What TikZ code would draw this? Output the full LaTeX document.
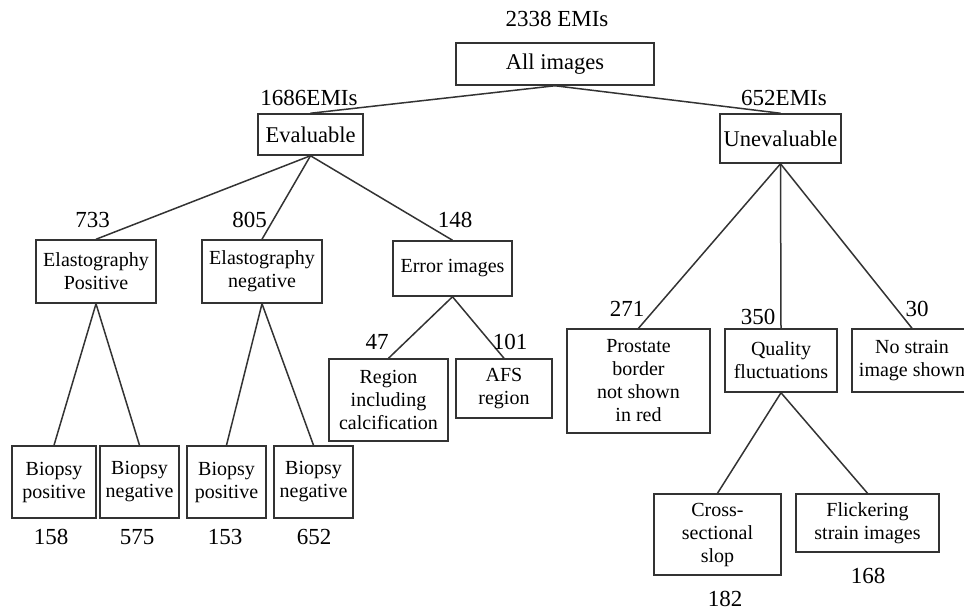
\documentclass[tikz,border=0pt]{standalone}
\usepackage{fontspec}
\setmainfont{Liberation Serif}
\begin{document}
\begin{tikzpicture}[x=1pt,y=-1pt,
  box/.style={draw=black!80, line width=1.5pt, inner sep=0pt, align=center,
    font=\fontsize{20}{23}\selectfont},
  topbox/.style={box, font=\fontsize{22.5}{26}\selectfont},
  num/.style={inner sep=0pt, text depth=0pt, font=\fontsize{23}{26}\selectfont},
  link/.style={line width=1.5pt, draw=black!80}]
\useasboundingbox (0,0) rectangle (964,611);
% boxes
\node[topbox, minimum width=198pt, minimum height=42pt] (all) at (555,64) {All images};
\node[topbox, minimum width=105pt, minimum height=41pt] (eval) at (310.5,134.5) {Evaluable};
\node[topbox, minimum width=121pt, minimum height=49pt] (uneval) at (780.5,138.5) {Unevaluable};
\node[box, minimum width=120pt, minimum height=63pt] (elpos) at (96,271.5) {Elastography\\Positive};
\node[box, minimum width=120pt, minimum height=63pt] (elneg) at (262,271.5) {Elastography\\negative};
\node[box, minimum width=119pt, minimum height=55pt] (err) at (452.5,268.5) {Error images};
\node[box, minimum width=119pt, minimum height=82pt] (reg) at (388.5,400) {Region\\including\\calcification};
\node[box, minimum width=96pt, minimum height=59pt] (afs) at (504,388.5) {AFS\\region};
\node[box, minimum width=84pt, minimum height=72pt] (b1) at (54,482) {Biopsy\\positive};
\node[box, minimum width=79pt, minimum height=72pt] (b2) at (139.5,482) {Biopsy\\negative};
\node[box, minimum width=79pt, minimum height=72pt] (b3) at (226.5,482) {Biopsy\\positive};
\node[box, minimum width=79pt, minimum height=72pt] (b4) at (313.5,482) {Biopsy\\negative};
\node[box, minimum width=143pt, minimum height=104pt] (pros) at (638.5,381) {Prostate\\border\\not shown\\in red};
\node[box, minimum width=112pt, minimum height=63pt] (qual) at (781,360.5) {Quality\\fluctuations};
\node[box, minimum width=120pt, minimum height=63pt] (nostr) at (912,360.5) {No strain\\image shown};
\node[box, minimum width=127pt, minimum height=81pt] (cross) at (717.5,534.5) {Cross-\\sectional\\slop};
\node[box, minimum width=143pt, minimum height=58pt] (flick) at (867.5,523) {Flickering\\strain images};
% connectors
\draw[link] (all.south) -- (eval.north);
\draw[link] (all.south) -- (uneval.north);
\draw[link] (eval.south) -- (elpos.north);
\draw[link] (eval.south) -- (elneg.north);
\draw[link] (eval.south) -- (err.north);
\draw[link] (err.south) -- (reg.north);
\draw[link] (err.south) -- (afs.north);
\draw[link] (elpos.south) -- (b1.north);
\draw[link] (elpos.south) -- (b2.north);
\draw[link] (elneg.south) -- (b3.north);
\draw[link] (elneg.south) -- (b4.north);
\draw[link] (uneval.south) -- (pros.north);
\draw[link] (uneval.south) -- (qual.north);
\draw[link] (uneval.south) -- (nostr.north);
\draw[link] (qual.south) -- (cross.north);
\draw[link] (qual.south) -- (flick.north);
% numbers
\node[num] (nall) at (557,19) {2338 EMIs};
\node[num] (neval) at (309,98) {1686EMIs};
\node[num] (nuneval) at (784,98) {652EMIs};
\node[num] (nelpos) at (92.5,220) {733};
\node[num] (nelneg) at (249.5,220) {805};
\node[num] (nerr) at (455,220) {148};
\node[num] (nreg) at (377,342) {47};
\node[num] (nafs) at (510,342) {101};
\node[num] (nb1) at (51,537) {158};
\node[num] (nb2) at (137,537) {575};
\node[num] (nb3) at (225,537) {153};
\node[num] (nb4) at (314,537) {652};
\node[num] (npros) at (627,309) {271};
\node[num] (nqual) at (758,317) {350};
\node[num] (nnostr) at (917,309) {30};
\node[num] (ncross) at (725,599) {182};
\node[num] (nflick) at (868,576) {168};
\end{tikzpicture}
\end{document}
